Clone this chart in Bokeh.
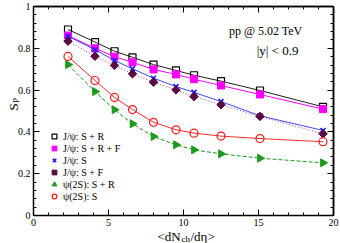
import math
from bokeh.plotting import figure
from bokeh.models import (FixedTicker, Label, Legend, LegendItem, Range1d, LinearAxis,
                          NumeralTickFormatter)
from bokeh.embed import file_html
from bokeh.resources import INLINE

# ---------------- data ----------------
dndeta = [2.3, 4.1, 5.4, 6.6, 8.0, 9.5, 10.7, 12.5, 15.1, 19.3]
jpsi_sr = [0.890, 0.830, 0.786, 0.757, 0.722, 0.694, 0.671, 0.643, 0.598, 0.520]
jpsi_srf = [0.861, 0.800, 0.760, 0.733, 0.699, 0.675, 0.652, 0.622, 0.579, 0.509]
jpsi_s = [0.858, 0.793, 0.742, 0.702, 0.657, 0.617, 0.589, 0.545, 0.477, 0.407]
jpsi_sf = [0.834, 0.762, 0.718, 0.678, 0.638, 0.601, 0.569, 0.530, 0.474, 0.391]
psi2s_sr = [0.722, 0.593, 0.506, 0.439, 0.378, 0.338, 0.314, 0.295, 0.274, 0.252]
psi2s_s = [0.761, 0.646, 0.565, 0.507, 0.446, 0.410, 0.394, 0.380, 0.368, 0.353]

labels = ["J/ψ: S + R", "J/ψ: S + R + F", "J/ψ: S", "J/ψ: S + F",
          "ψ(2S): S + R", "ψ(2S): S"]

x_lim = (0, 20)
y_lim = (0, 1)
x_ticks = [0, 5, 10, 15, 20]
x_minor = list(range(0, 21))
y_ticks = [0, 0.2, 0.4, 0.6, 0.8, 1.0]
y_minor = [round(i * 0.04, 2) for i in range(26)]

# ---------------- layout in pixels ----------------
W, H = 340, 243
FL, FR, FT, FB = 33, 333, 6, 215          # box of the axes, in canvas pixels
ppx = (FR - FL) / (x_lim[1] - x_lim[0])
ppy = (FB - FT) / (y_lim[1] - y_lim[0])
xr = Range1d(x_lim[0] - FL / ppx, x_lim[1] + (W - FR) / ppx)
yr = Range1d(y_lim[0] - (H - FB) / ppy, y_lim[1] + FT / ppy)

FONT = "Liberation Serif"

p = figure(width=W, height=H, x_range=xr, y_range=yr,
           output_backend="svg", toolbar_location=None, min_border=0)
p.xgrid.visible = False
p.ygrid.visible = False
p.outline_line_color = None
p.background_fill_color = "white"
p.border_fill_color = "white"


def base_style(ax):
    ax.axis_line_color = "black"
    ax.axis_line_width = 1.5
    ax.major_tick_line_color = "black"
    ax.minor_tick_line_color = "black"
    ax.major_tick_in = 6
    ax.major_tick_out = 0
    ax.minor_tick_in = 3
    ax.minor_tick_out = 0
    ax.major_label_text_font = FONT
    ax.major_label_text_font_size = "10px"
    ax.major_label_text_color = "black"
    ax.major_label_standoff = 3


bx = p.xaxis[0]
base_style(bx)
bx.fixed_location = y_lim[0]
bx.bounds = x_lim
bx.ticker = FixedTicker(ticks=x_ticks, minor_ticks=x_minor)
bx.formatter = NumeralTickFormatter(format="0.[0]")

ly = p.yaxis[0]
base_style(ly)
ly.fixed_location = x_lim[0]
ly.bounds = y_lim
ly.ticker = FixedTicker(ticks=y_ticks, minor_ticks=y_minor)
ly.formatter = NumeralTickFormatter(format="0.[0]")

# mirrored box sides (ticks only, no labels)
for minor, ln in ((x_minor, 3), (x_ticks, 6)):
    ax = LinearAxis(ticker=FixedTicker(ticks=[], minor_ticks=minor),
                    fixed_location=y_lim[1], bounds=x_lim)
    base_style(ax)
    ax.minor_tick_in = ln
    p.add_layout(ax, "above")
for minor, ln in ((y_minor, 3), (y_ticks, 6)):
    ax = LinearAxis(ticker=FixedTicker(ticks=[], minor_ticks=minor),
                    fixed_location=x_lim[1], bounds=y_lim)
    base_style(ax)
    ax.minor_tick_in = ln
    p.add_layout(ax, "right")

# ---------------- series ----------------
series = [
    (jpsi_sr, dict(marker="square", size=7, line_color="black", fill_color=None, line_width=1.2),
     dict(line_color="#222222", line_width=1.0)),
    (jpsi_srf, dict(marker="square", size=7, line_color="#ff00ff", fill_color="#ff00ff", line_width=1),
     dict(line_color="#ff00ff", line_width=1.0)),
    (jpsi_s, dict(marker="x", size=7, line_color="#1a1aff", line_width=1.6),
     dict(line_color="#3b4bff", line_width=1.0)),
    (jpsi_sf, dict(marker="square", size=6, angle=math.pi / 4, line_color="#5a0a44",
                   fill_color="#5a0a44", line_width=1),
     dict(line_color="#9a3f80", line_width=1.0, line_dash="1 2")),
    (psi2s_sr, dict(marker="triangle", size=8, angle=-math.pi / 2, line_color="#1c9a1c",
                    fill_color="#1c9a1c", line_width=1),
     dict(line_color="#1c9a1c", line_width=1.0, line_dash="4 2")),
    (psi2s_s, dict(marker="circle", size=8, line_color="#ff1a1a", fill_color=None, line_width=1.2),
     dict(line_color="#ff2a2a", line_width=1.0)),
]

items = []
for (vals, mk, ln), lab in zip(series, labels):
    p.line(dndeta, vals, **ln)
    r = p.scatter(dndeta, vals, **mk)
    items.append(LegendItem(label=lab, renderers=[r]))

legend = Legend(items=items, location=(48, 41), glyph_width=12, glyph_height=12, spacing=0,
                label_height=12, label_standoff=3, padding=0, margin=0,
                border_line_alpha=0, background_fill_alpha=0,
                label_text_font=FONT, label_text_font_size="10px", label_text_color="black")
p.add_layout(legend)


# ---------------- texts (screen units: from canvas left / bottom) ----------------
def lab(text, px, py, size, align="left", angle=0.0):
    p.add_layout(Label(x=px, y=H - py, x_units="screen", y_units="screen", text=text,
                       text_font=FONT, text_font_size=size, text_color="black",
                       text_align=align, text_baseline="alphabetic", angle=angle))

lab("pp @ 5.02 TeV", 302, 30.7, "12px", align="right")
lab("|y| < 0.9", 298, 50, "13px", align="right")

# x title  <dN_ch/dη>
lab("<dN", 157, 236, "13px")
lab("ch", 181, 238, "9px")
lab("/dη>", 190, 236, "13px")

# y title  S_P
lab("S", 13, 110, "13px", angle=math.pi / 2)
lab("P", 15.5, 102.5, "9px", angle=math.pi / 2)

open("out.html", "w").write(file_html(p, INLINE))
